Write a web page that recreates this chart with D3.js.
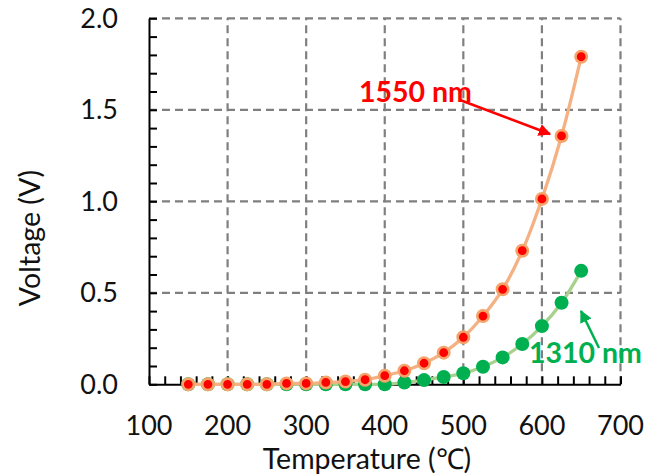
<!DOCTYPE html>
<html lang="en">
<head>
<meta charset="utf-8">
<title>Voltage vs temperature</title>
<script src="https://d3js.org/d3.v7.min.js"></script>
<style>
  body { margin: 0; background: #fff; }
  svg { display: block; font-family: Lato, "Open Sans", sans-serif; }
</style>
</head>
<body>
<script>
// data
var temps = [150, 175, 200, 225, 250, 275, 300, 325, 350, 375, 400, 425, 450, 475, 500, 525, 550, 575, 600, 625, 650];
var v1550 = [0, 0, 0, 0, 0, 0.005, 0.005, 0.01, 0.015, 0.025, 0.047, 0.074, 0.115, 0.173, 0.257, 0.373, 0.519, 0.73, 1.013, 1.357, 1.79];
var v1310 = [0, 0, 0, 0, 0, 0, 0, 0, 0, 0, 0, 0.01, 0.023, 0.04, 0.06, 0.096, 0.147, 0.22, 0.318, 0.446, 0.62];
var xTicks = [100, 200, 300, 400, 500, 600, 700];
var yTicks = [0, 0.5, 1.0, 1.5, 2.0];

var w = 661, h = 475;
var pLeft = 149, pRight = 620.5, pTop = 18.3, pBottom = 384.3;

var svg = d3.select("body").append("svg").attr("width", w).attr("height", h);

var x = d3.scaleLinear().domain([100, 700]).range([pLeft, pRight]);
var y = d3.scaleLinear().domain([0, 2]).range([pBottom, pTop]);

// dashed grid
var grid = svg.append("g").attr("stroke", "#7f7f7f").attr("stroke-width", 2.2)
  .attr("stroke-dasharray", "8,5");
grid.selectAll("line.v").data(xTicks.slice(1)).enter().append("line")
  .attr("x1", function(d) { return x(d); }).attr("x2", function(d) { return x(d); })
  .attr("y1", y(0)).attr("y2", y(2));
grid.selectAll("line.h").data(yTicks.slice(1)).enter().append("line")
  .attr("x1", x(100)).attr("x2", x(700))
  .attr("y1", function(d) { return y(d); }).attr("y2", function(d) { return y(d); });

// axes with inside minor ticks
var xAxis = svg.append("g").attr("transform", "translate(0," + pBottom + ")")
  .call(d3.axisBottom(x).tickValues(d3.range(100, 701, 20)).tickSize(-8).tickSizeOuter(0).tickFormat(""));
var yAxis = svg.append("g").attr("transform", "translate(" + pLeft + ",0)")
  .call(d3.axisLeft(y).tickValues(d3.range(0, 2.001, 0.1)).tickSize(-8).tickSizeOuter(0).tickFormat(""));
[xAxis, yAxis].forEach(function(a) {
  a.selectAll("path, line").attr("stroke", "#000").attr("stroke-width", 2);
});

// tick labels
svg.append("g").selectAll("text").data(xTicks).enter().append("text")
  .attr("x", function(d) { return x(d); }).attr("y", 435)
  .attr("text-anchor", "middle").attr("font-size", 27).attr("fill", "#111")
  .text(function(d) { return d; });
svg.append("g").selectAll("text").data(yTicks).enter().append("text")
  .attr("x", 118).attr("y", function(d) { return y(d) + 9.5; })
  .attr("text-anchor", "end").attr("font-size", 27).attr("fill", "#111")
  .text(function(d) { return d.toFixed(1); });

// axis titles
svg.append("text").attr("x", 367).attr("y", 469).attr("text-anchor", "middle")
  .attr("font-size", 28.5).attr("fill", "#111").text("Temperature (\u2103)");
svg.append("text").attr("transform", "translate(40,238) rotate(-90)")
  .attr("text-anchor", "middle").attr("font-size", 28.5).attr("fill", "#111").text("Voltage (V)");

// series
var line = d3.line().curve(d3.curveCatmullRom)
  .x(function(d) { return x(d[0]); }).y(function(d) { return y(d[1]); });
var s1310 = temps.map(function(t, i) { return [t, v1310[i]]; });
var s1550 = temps.map(function(t, i) { return [t, v1550[i]]; });

svg.append("path").datum(s1310).attr("d", line).attr("fill", "none")
  .attr("stroke", "#a9d18e").attr("stroke-width", 3.3);
svg.append("g").selectAll("circle").data(s1310).enter().append("circle")
  .attr("cx", function(d) { return x(d[0]); }).attr("cy", function(d) { return y(d[1]); })
  .attr("r", 7).attr("fill", "#00b050");

svg.append("path").datum(s1550).attr("d", line).attr("fill", "none")
  .attr("stroke", "#f4b183").attr("stroke-width", 3.3);
svg.append("g").selectAll("circle").data(s1550).enter().append("circle")
  .attr("cx", function(d) { return x(d[0]); }).attr("cy", function(d) { return y(d[1]); })
  .attr("r", 5.7).attr("fill", "#ff0000").attr("stroke", "#f4a46a").attr("stroke-width", 2.6);

// annotations
var defs = svg.append("defs");
[["ar", "#ff0000"], ["ag", "#00b050"]].forEach(function(m) {
  defs.append("marker").attr("id", m[0]).attr("viewBox", "0 0 10 10")
    .attr("refX", 9).attr("refY", 5).attr("markerWidth", 5).attr("markerHeight", 5)
    .attr("orient", "auto").attr("markerUnits", "strokeWidth")
    .append("path").attr("d", "M0,0 L10,5 L0,10 z").attr("fill", m[1]);
});
svg.append("line").attr("x1", 460).attr("y1", 100).attr("x2", 550).attr("y2", 134)
  .attr("stroke", "#ff0000").attr("stroke-width", 2.5).attr("marker-end", "url(#ar)");
svg.append("text").attr("x", 359).attr("y", 102).attr("font-size", 28.5).attr("font-weight", "bold")
  .attr("fill", "#ff0000").text("1550 nm");

svg.append("line").attr("x1", 599).attr("y1", 348).attr("x2", 581).attr("y2", 311)
  .attr("stroke", "#00b050").attr("stroke-width", 2.5).attr("marker-end", "url(#ag)");
svg.append("text").attr("x", 529).attr("y", 363).attr("font-size", 28.5).attr("font-weight", "bold")
  .attr("fill", "#00b050").text("1310 nm");
</script>
</body>
</html>
